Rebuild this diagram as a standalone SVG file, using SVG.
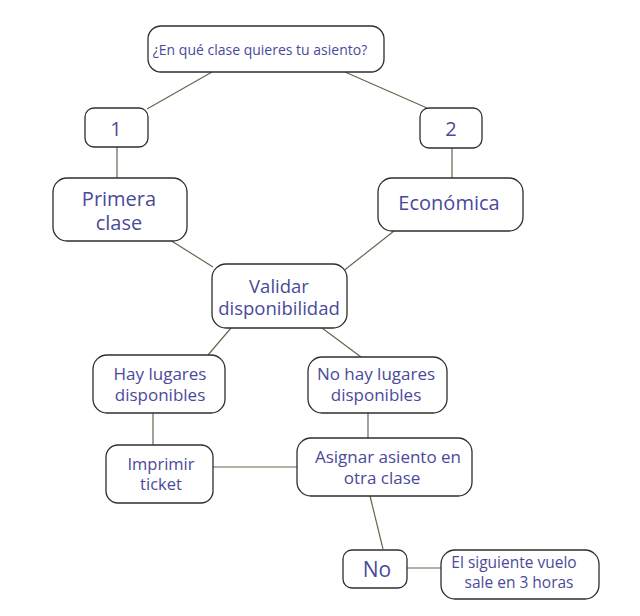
<svg xmlns="http://www.w3.org/2000/svg" width="640" height="616" viewBox="0 0 640 616">
<style>
.n{fill:#ffffff;stroke:#2e2e2e;stroke-width:1.3}
.t{font-family:"Open Sans","DejaVu Sans",sans-serif;fill:#4a4a9a;text-anchor:middle}
.c line{stroke:#67674f;stroke-width:1.2}
</style>
<rect width="640" height="616" fill="#ffffff"/>
<g class="c" id="connectors">
<line x1="212" y1="72" x2="147" y2="109"/>
<line x1="345" y1="72" x2="427" y2="108"/>
<line x1="117" y1="147" x2="117" y2="178"/>
<line x1="452" y1="148" x2="452" y2="178"/>
<line x1="170" y1="240" x2="213" y2="267"/>
<line x1="394" y1="231" x2="342" y2="272"/>
<line x1="231" y1="328" x2="208" y2="355"/>
<line x1="322" y1="328" x2="361" y2="357"/>
<line x1="153" y1="413" x2="153" y2="445"/>
<line x1="368" y1="413" x2="368" y2="438"/>
<line x1="213" y1="467" x2="297" y2="467"/>
<line x1="370" y1="496" x2="383" y2="549"/>
<line x1="407" y1="568" x2="441" y2="568"/>
</g>
<g id="q"><rect class="n" x="148" y="26" width="236" height="46" rx="13"/><text class="t" x="260" y="55" font-size="14">¿En qué clase quieres tu asiento?</text></g>
<g id="n1"><rect class="n" x="85" y="108" width="63" height="39" rx="9"/><text class="t" x="116" y="136" font-size="20">1</text></g>
<g id="n2"><rect class="n" x="420" y="108" width="62" height="40" rx="9"/><text class="t" x="451" y="136" font-size="20">2</text></g>
<g id="primera"><rect class="n" x="53" y="178" width="134" height="63" rx="14"/><text class="t" font-size="20"><tspan x="119" y="206">Primera</tspan><tspan x="119" y="230">clase</tspan></text></g>
<g id="economica"><rect class="n" x="378" y="178" width="145" height="53" rx="14"/><text class="t" x="449" y="210" font-size="20">Económica</text></g>
<g id="validar"><rect class="n" x="212" y="264" width="135" height="64" rx="14"/><text class="t" font-size="18.5"><tspan x="279" y="293">Validar</tspan><tspan x="279" y="315">disponibilidad</tspan></text></g>
<g id="hay"><rect class="n" x="93" y="355" width="132" height="58" rx="14"/><text class="t" font-size="17"><tspan x="160" y="380">Hay lugares</tspan><tspan x="160" y="401">disponibles</tspan></text></g>
<g id="nohay"><rect class="n" x="308" y="357" width="139" height="56" rx="14"/><text class="t" font-size="17"><tspan x="376" y="380">No hay lugares</tspan><tspan x="376" y="401">disponibles</tspan></text></g>
<g id="imprimir"><rect class="n" x="106" y="445" width="107" height="58" rx="12"/><text class="t" font-size="16.5"><tspan x="161" y="470">Imprimir</tspan><tspan x="161" y="490">ticket</tspan></text></g>
<g id="asignar"><rect class="n" x="297" y="438" width="175" height="58" rx="14"/><text class="t" font-size="17"><tspan x="388" y="463">Asignar asiento en</tspan><tspan x="382" y="484">otra clase</tspan></text></g>
<g id="no"><rect class="n" x="343" y="550" width="64" height="38" rx="9"/><text class="t" x="377" y="577" font-size="21">No</text></g>
<g id="siguiente"><rect class="n" x="441" y="550" width="158" height="49" rx="14"/><text class="t" font-size="15.5"><tspan x="514" y="568">El siguiente vuelo</tspan><tspan x="519" y="588">sale en 3 horas</tspan></text></g>
</svg>
